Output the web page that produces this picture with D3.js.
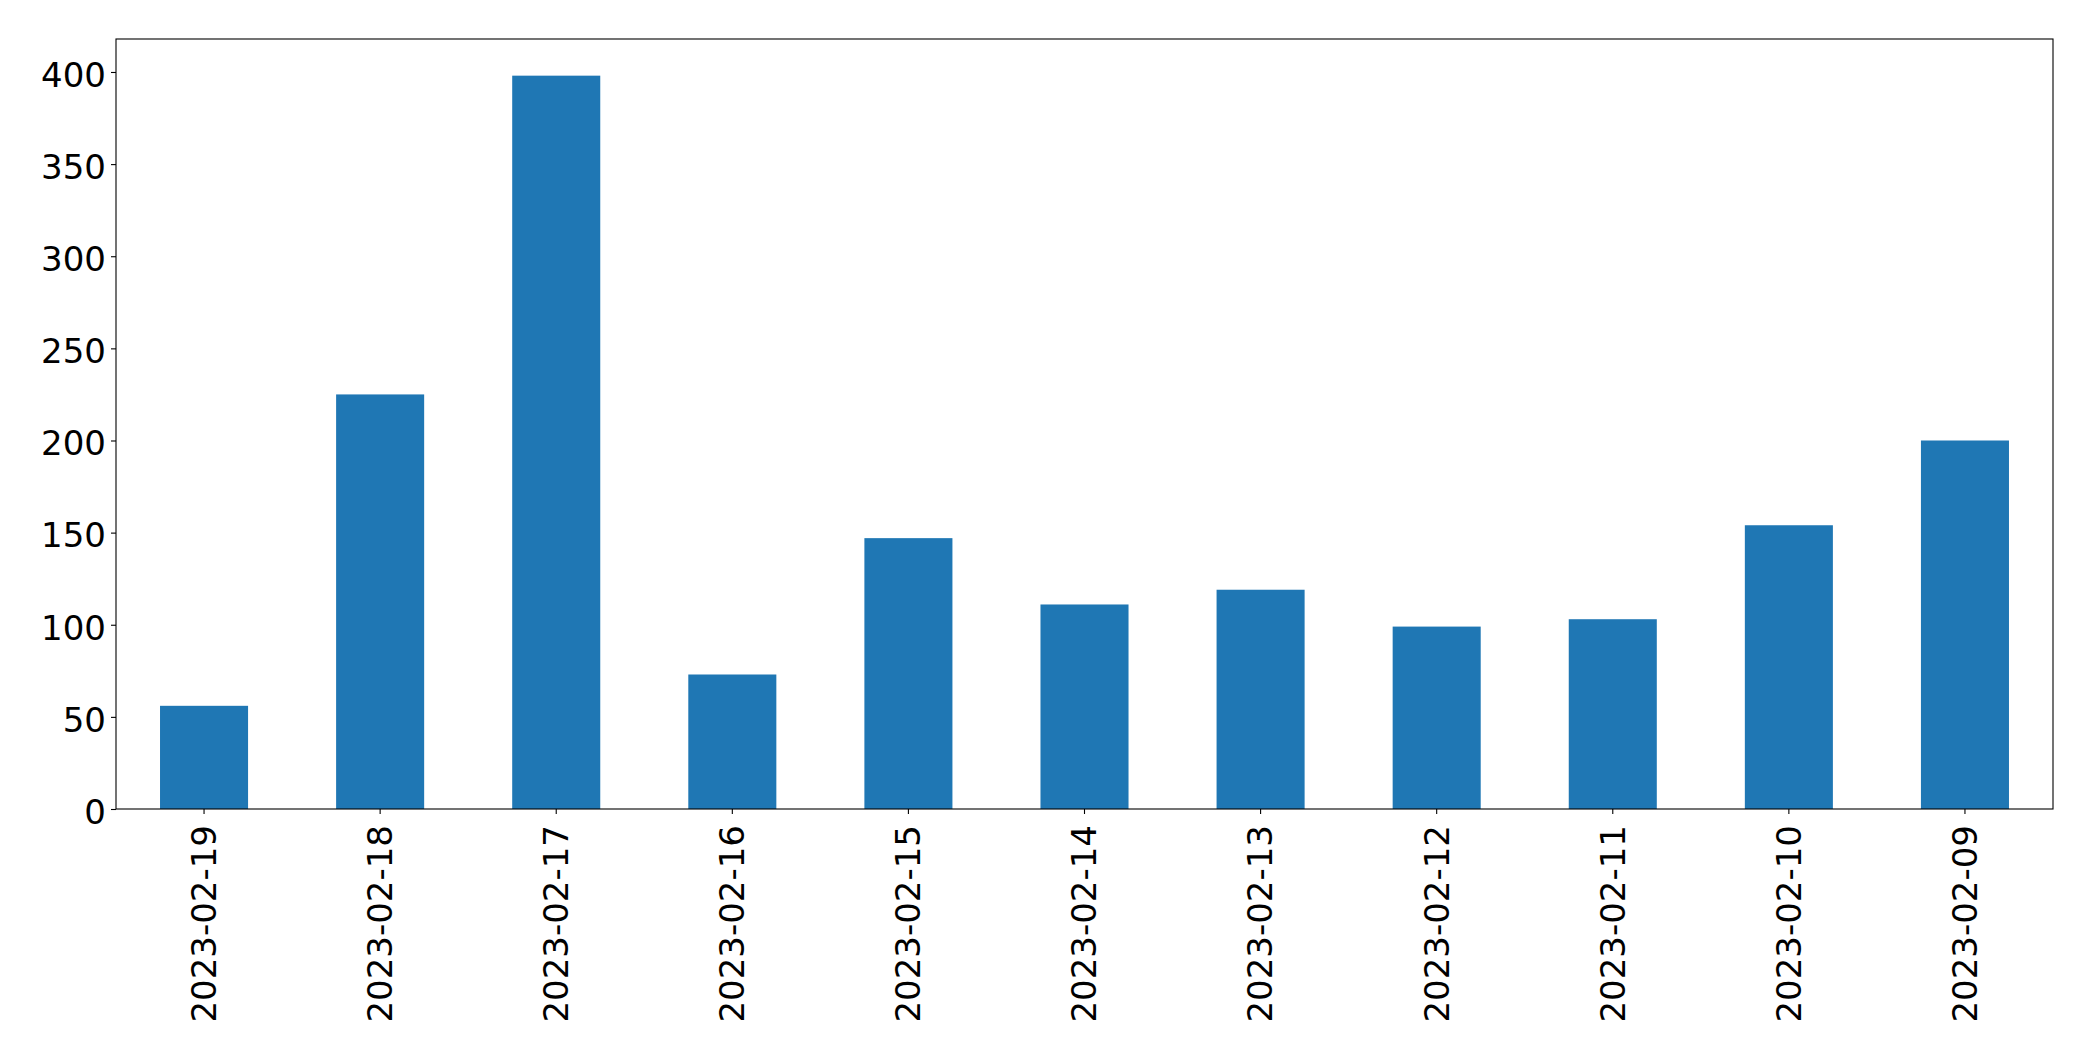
<!DOCTYPE html>
<html>
<head>
<meta charset="utf-8">
<script src="https://cdn.jsdelivr.net/npm/d3@7"></script>
<style>
  body { margin: 0; background: #fff; }
  svg { display: block; }
  text { font-family: "DejaVu Sans", sans-serif; fill: #000; }
</style>
</head>
<body>
<svg width="2093" height="1061"></svg>
<script>
// dates as they appear on the x axis (newest first)
var dates = ["2023-02-19", "2023-02-18", "2023-02-17", "2023-02-16", "2023-02-15",
  "2023-02-14", "2023-02-13", "2023-02-12", "2023-02-11", "2023-02-10", "2023-02-09"];
var counts = [56, 225, 398, 73, 147, 111, 119, 99, 103, 154, 200];
var yTicks = [0, 50, 100, 150, 200, 250, 300, 350, 400];

var margin = {top: 39, right: 40, bottom: 252, left: 116},
  width = 2093 - margin.left - margin.right,
  height = 1061 - margin.top - margin.bottom,
  fontSize = 34,
  tickLen = 5;

var svg = d3.select("svg");
var g = svg.append("g")
  .attr("transform", "translate(" + margin.left + "," + margin.top + ")");

var x = d3.scaleBand()
  .domain(dates)
  .range([0, width])
  .paddingInner(0.5)
  .paddingOuter(0.25);

var y = d3.scaleLinear()
  .domain([0, d3.max(counts) * 1.05])
  .range([height, 0]);

// bars
g.append("g")
  .selectAll("rect")
  .data(dates)
  .enter().append("rect")
    .attr("x", function(d) { return x(d); })
    .attr("width", x.bandwidth())
    .attr("y", function(d, i) { return y(counts[i]); })
    .attr("height", function(d, i) { return height - y(counts[i]); })
    .attr("fill", "#1f77b4");

// y axis
var yAxis = g.append("g")
  .call(d3.axisLeft(y).tickValues(yTicks).tickSize(tickLen).tickPadding(5));
yAxis.select(".domain").remove();
yAxis.selectAll("line").attr("stroke", "#000").attr("stroke-width", 1.1);
yAxis.selectAll("text")
  .style("font-size", fontSize + "px")
  .attr("dy", "0.42em");

// x axis
var xAxis = g.append("g")
  .attr("transform", "translate(0," + height + ")")
  .call(d3.axisBottom(x).tickSize(tickLen).tickPadding(0));
xAxis.select(".domain").remove();
xAxis.selectAll("line").attr("stroke", "#000").attr("stroke-width", 1.1);
xAxis.selectAll("text")
  .style("font-size", fontSize + "px")
  .attr("text-anchor", "end")
  .attr("transform", "rotate(-90)")
  .attr("x", -(tickLen + 11))
  .attr("y", 0)
  .attr("dy", "0.35em");

// frame
g.append("rect")
  .attr("width", width)
  .attr("height", height)
  .attr("fill", "none")
  .attr("stroke", "#000")
  .attr("stroke-width", 1.1);
</script>
</body>
</html>
